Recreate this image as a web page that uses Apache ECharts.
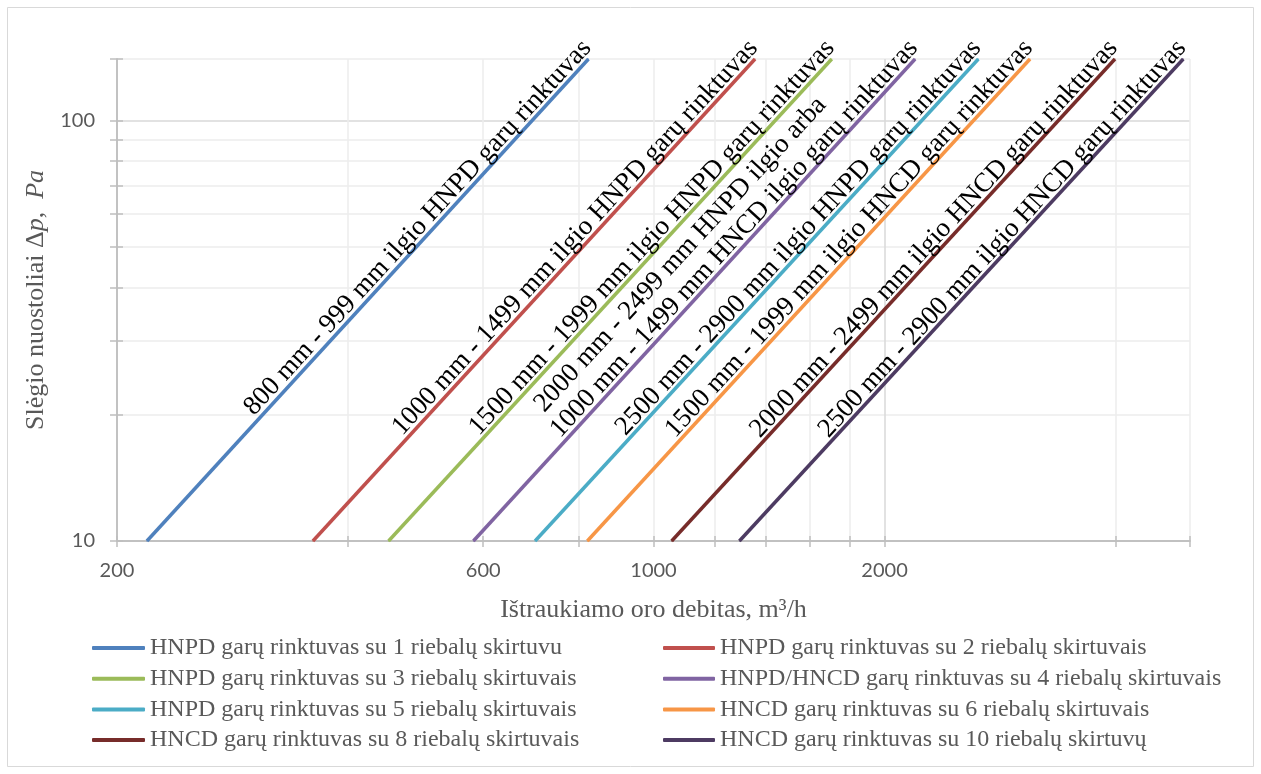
<!DOCTYPE html>
<html>
<head>
<meta charset="utf-8">
<script src="https://cdn.jsdelivr.net/npm/echarts@6/dist/echarts.min.js"></script>
<style>
  html, body { margin: 0; padding: 0; background: #ffffff; }
  #chart { width: 1261px; height: 774px; }
</style>
</head>
<body>
<div id="chart"></div>
<script>
// Series (legend) names
const seriesNames = [
  'HNPD garų rinktuvas su 1 riebalų skirtuvu',
  'HNPD garų rinktuvas su 2 riebalų skirtuvais',
  'HNPD garų rinktuvas su 3 riebalų skirtuvais',
  'HNPD/HNCD garų rinktuvas su 4 riebalų skirtuvais',
  'HNPD garų rinktuvas su 5 riebalų skirtuvais',
  'HNCD garų rinktuvas su 6 riebalų skirtuvais',
  'HNCD garų rinktuvas su 8 riebalų skirtuvais',
  'HNCD garų rinktuvas su 10 riebalų skirtuvų'
];

// Text written along each line
const lineLabels = [
  '800 mm - 999 mm ilgio HNPD garų rinktuvas',
  '1000 mm - 1499 mm ilgio HNPD garų rinktuvas',
  '1500 mm - 1999 mm ilgio HNPD garų rinktuvas',
  '2000 mm - 2499 mm HNPD ilgio arba\n1000 mm - 1499 mm HNCD ilgio garų rinktuvas',
  '2500 mm - 2900 mm ilgio HNPD garų rinktuvas',
  '1500 mm - 1999 mm ilgio HNCD garų rinktuvas',
  '2000 mm - 2499 mm ilgio HNCD garų rinktuvas',
  '2500 mm - 2900 mm ilgio HNCD garų rinktuvas'
];

// Air flow (m3/h) at the low and high pressure-loss ends of each line
const pressureLow = 10;
const pressureHigh = 140;
const flowAtLow  = [218.8, 360, 451.7, 582.6, 701, 820, 1056, 1294];
const flowAtHigh = [822.8, 1356, 1707, 2192, 2650, 3094, 3992, 4900];

// Axis ticks and labels
const xTickValues  = [200, 400, 600, 800, 1000, 1200, 1400, 1600, 1800, 2000, 4000, 5000];
const xLabelValues = [200, 600, 1000, 2000];
const yTickValues  = [10, 20, 30, 40, 50, 60, 70, 80, 90, 100, 140];
const yLabelValues = [10, 100];

const colors = ['#4F81BD', '#C0504D', '#9BBB59', '#8064A2', '#4BACC6', '#F79646', '#772C2A', '#4D3B62'];

const serif = '"Liberation Serif", "Times New Roman", serif';
const axisGray = '#bfbfbf';
const gridLight = '#ededed';
const gridMajor = '#d9d9d9';

function splitColors(ticks, majorValue) {
  return ticks.map(v => (v === majorValue ? gridMajor : gridLight));
}

function labelText(txt) {
  const parts = txt.split('\n');
  if (parts.length === 1) return parts[0];
  return '{lead|' + parts[0] + '}\n' + parts.slice(1).join('\n');
}

const series = seriesNames.map((name, i) => ({
  name: name,
  type: 'line',
  xAxisIndex: 0,
  yAxisIndex: 0,
  symbol: 'circle',
  symbolSize: 1,
  showSymbol: true,
  color: colors[i],
  lineStyle: { width: 3.5, color: colors[i], cap: 'butt' },
  itemStyle: { color: colors[i] },
  emphasis: { disabled: true },
  silent: true,
  clip: true,
  z: 3,
  data: [
    [flowAtLow[i], pressureLow],
    {
      value: [flowAtHigh[i], pressureHigh],
      label: {
        show: true,
        position: 'inside',
        formatter: labelText(lineLabels[i]),
        rotate: 47.4,
        align: 'right',
        verticalAlign: 'bottom',
        offset: [10, 3],
        fontFamily: serif,
        fontSize: 27,
        lineHeight: 29,
        color: '#000000',
        rich: {
          lead: { fontFamily: serif, fontSize: 27, lineHeight: 29, color: '#000000', padding: [0, 104, 0, 0] }
        }
      }
    }
  ]
}));

const legendText = { fontFamily: serif, fontSize: 24, lineHeight: 24, color: '#595959' };

const baseX = {
  type: 'log', logBase: 10, min: 200, max: 5000,
  position: 'bottom',
  axisLine: { show: true, lineStyle: { color: axisGray, width: 1.5 } }
};
const baseY = {
  type: 'log', logBase: 10, min: 10, max: 140,
  position: 'left',
  axisLine: { show: true, lineStyle: { color: axisGray, width: 1.5 } }
};

const option = {
  animation: false,
  backgroundColor: '#ffffff',
  grid: { left: 117, right: 71, top: 59, bottom: 233, containLabel: false },
  xAxis: [
    Object.assign({}, baseX, {
      name: 'Ištraukiamo oro debitas, m³/h',
      nameLocation: 'middle',
      nameGap: 56,
      nameTextStyle: { fontFamily: serif, fontSize: 26, color: '#595959' },
      axisTick: { show: true, inside: false, length: 6, customValues: xTickValues, lineStyle: { color: axisGray, width: 1.5 } },
      axisLabel: { show: true, customValues: xLabelValues, margin: 20, fontFamily: 'Lato', fontSize: 20, color: '#595959',
        formatter: v => String(Math.round(v)) },
      splitLine: { show: true, lineStyle: { color: splitColors(xTickValues, 2000), width: 1.5 } }
    }),
    Object.assign({}, baseX, {
      axisTick: { show: true, inside: true, length: 5, customValues: xTickValues, lineStyle: { color: axisGray, width: 1.5 } },
      axisLabel: { show: false },
      splitLine: { show: false }
    })
  ],
  yAxis: [
    Object.assign({}, baseY, {
      name: 'Slėgio nuostoliai Δ{i|p},  {i|Pa}',
      nameLocation: 'middle',
      nameRotate: 90,
      nameGap: 68,
      nameTextStyle: { fontFamily: serif, fontSize: 26, color: '#595959',
        rich: { i: { fontFamily: serif, fontSize: 26, fontStyle: 'italic', color: '#595959' } } },
      axisTick: { show: true, inside: false, length: 7, customValues: yTickValues, lineStyle: { color: axisGray, width: 1.5 } },
      axisLabel: { show: true, customValues: yLabelValues, margin: 22, fontFamily: 'Lato', fontSize: 20, color: '#595959',
        formatter: v => String(Math.round(v)) },
      splitLine: { show: true, lineStyle: { color: splitColors(yTickValues, 100), width: 1.5 } }
    }),
    Object.assign({}, baseY, {
      axisTick: { show: true, inside: true, length: 6, customValues: yTickValues, lineStyle: { color: axisGray, width: 1.5 } },
      axisLabel: { show: false },
      splitLine: { show: false }
    })
  ],
  legend: [
    {
      data: [seriesNames[0], seriesNames[2], seriesNames[4], seriesNames[6]],
      orient: 'vertical', left: 92, top: 636, padding: 0,
      itemWidth: 53, itemHeight: 4, itemGap: 6.7, icon: 'roundRect',
      selectedMode: false, textStyle: legendText
    },
    {
      data: [seriesNames[1], seriesNames[3], seriesNames[5], seriesNames[7]],
      orient: 'vertical', left: 663, top: 636, padding: 0,
      itemWidth: 52, itemHeight: 4, itemGap: 6.7, icon: 'roundRect',
      selectedMode: false, textStyle: legendText
    }
  ],
  graphic: [
    {
      type: 'rect', silent: true, z: -10,
      shape: { x: 7.5, y: 7.5, width: 1246, height: 759 },
      style: { fill: 'none', stroke: '#d9d9d9', lineWidth: 1 }
    }
  ],
  series: series
};

const chart = echarts.init(document.getElementById('chart'), null, { renderer: 'canvas' });
chart.setOption(option);
</script>
</body>
</html>
